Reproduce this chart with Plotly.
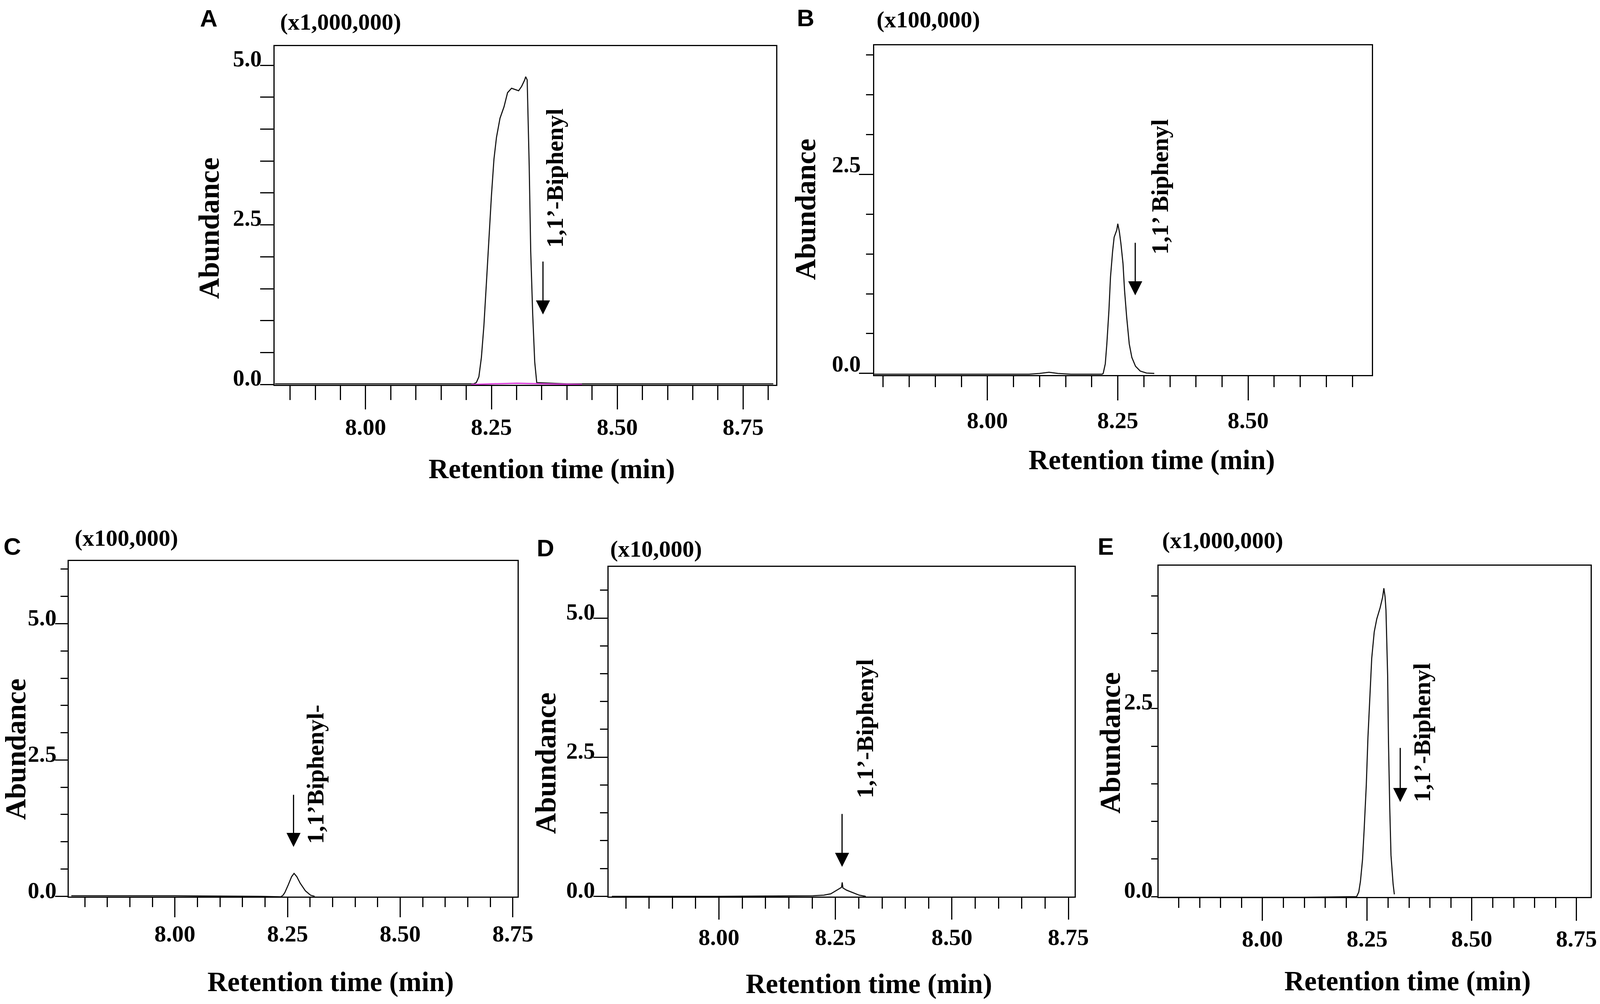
import plotly.graph_objects as go

# ---- data (retention time in min, abundance in the panel's unit) ----
# A  (x1,000,000)
rt_a = [7.82, 8.10, 8.215, 8.220, 8.225, 8.230, 8.235, 8.240, 8.245, 8.250, 8.255, 8.260,
        8.267, 8.275, 8.282, 8.290, 8.297, 8.304, 8.310, 8.316, 8.318, 8.321, 8.325, 8.328,
        8.332, 8.336, 8.340, 8.40, 8.81]
abund_a = [0.01, 0.01, 0.01, 0.03, 0.12, 0.42, 0.92, 1.59, 2.26, 2.96, 3.53, 3.87,
           4.17, 4.35, 4.57, 4.64, 4.62, 4.60, 4.67, 4.77, 4.82, 4.77, 3.43, 2.09,
           1.09, 0.35, 0.03, 0.01, 0.01]
rt_a_ion = [8.21, 8.25, 8.30, 8.35, 8.43]
abund_a_ion = [0.0, 0.01, 0.02, 0.01, 0.0]

# B  (x100,000)
rt_b = [7.78, 8.08, 8.10, 8.118, 8.135, 8.16, 8.22, 8.222, 8.226, 8.229, 8.233, 8.236,
        8.240, 8.243, 8.248, 8.250, 8.253, 8.256, 8.260, 8.263, 8.267, 8.272, 8.277,
        8.284, 8.293, 8.305, 8.32]
abund_b = [-0.01, -0.01, 0.0, 0.015, 0.0, -0.01, -0.01, 0.0, 0.12, 0.37, 0.79, 1.21,
           1.53, 1.71, 1.80, 1.88, 1.78, 1.63, 1.38, 1.04, 0.71, 0.37, 0.20,
           0.09, 0.03, 0.005, 0.0]

# C  (x100,000)
rt_c = [7.77, 8.00, 8.19, 8.235, 8.240, 8.244, 8.2515, 8.259, 8.2644, 8.2705, 8.278,
        8.2895, 8.301, 8.31]
abund_c = [0.01, 0.01, 0.0, -0.01, 0.02, 0.07, 0.21, 0.36, 0.42, 0.36, 0.24,
           0.10, 0.02, 0.0]

# D  (x10,000)
rt_d = [7.77, 8.00, 8.202, 8.225, 8.240, 8.2515, 8.259, 8.263, 8.2645, 8.266, 8.274,
        8.286, 8.301, 8.315]
abund_d = [0.0, 0.0, 0.01, 0.02, 0.045, 0.10, 0.14, 0.16, 0.25, 0.15, 0.11,
           0.07, 0.02, 0.0]

# E  (x1,000,000)
rt_e = [7.755, 8.10, 8.225, 8.230, 8.234, 8.239, 8.243, 8.248, 8.252, 8.257, 8.261,
        8.267, 8.273, 8.281, 8.287, 8.290, 8.293, 8.295, 8.299, 8.301, 8.304, 8.307,
        8.312, 8.315]
abund_e = [-0.01, -0.01, 0.0, 0.06, 0.20, 0.49, 0.90, 1.48, 2.12, 2.73, 3.17,
           3.52, 3.69, 3.84, 3.98, 4.10, 3.98, 3.81, 2.94, 2.06, 1.19, 0.55,
           0.17, 0.03]

letters = ["A", "B", "C", "D", "E"]
scales = ["(x1,000,000)", "(x100,000)", "(x100,000)", "(x10,000)", "(x1,000,000)"]
labels = ["1,1’-Biphenyl", "1,1’ Biphenyl", "1,1’Biphenyl-", "1,1’-Biphenyl", "1,1’-Biphenyl"]
series = [(rt_a, abund_a), (rt_b, abund_b), (rt_c, abund_c), (rt_d, abund_d), (rt_e, abund_e)]

# ---- layout (pixel positions measured on the 4317 x 2570 reference) ----
W, H = 4317, 2570
SERIF = "Liberation Serif"
SANS = "Liberation Sans"

def fx(px):
    return px / W

def fy(py):
    return 1 - py / H

# box (left, top, right, bottom), x range, y range
boxes = [(740.6, 118, 2094.7, 985), (2359, 116, 3701, 960), (185, 1436, 1396, 2295),
         (1642, 1451, 2899, 2295), (3126, 1448, 4292, 2296)]
xranges = [(7.819, 8.816), (7.783, 8.737), (7.764, 8.760), (7.763, 8.763), (7.752, 8.784)]
yranges = [(-0.005, 5.30), (-0.02, 4.12), (-0.005, 6.15), (-0.005, 5.92), (-0.005, 4.40)]
# tick lengths (major, minor) and label offsets per panel
xtick_len = [(60, 36), (62, 28), (50, 24), (56, 28), (58, 25)]
xlabel_standoff = [-7, -1, -10, -7, -6]
ytick_len = [(34, 34), (36, 18), (32, 18), (36, 19), (16, 16)]
ylabel_shift = [-18, -26, -16, -17, -18]
# text anchors: letter, scale, y title, x title, compound label, arrow (x, top, tip)
letter_pos = [(537, 46), (2148, 45), (7, 1399), (1446, 1403), (2959, 1399)]
scale_pos = [(754, 56), (2363, 50), (199, 1377), (1644, 1405), (3133, 1383)]
ytitle_pos = [(564, 584), (2173, 536), (42, 1918), (1472, 1954), (2995, 1902)]
xtitle_pos = [(1489, 1200), (3108, 1178), (892, 2513), (2344, 2518), (3798, 2511)]
label_pos = [(1497, 456), (3129, 478), (851, 1982), (2333, 1865), (3836, 1875)]
arrow_pos = [(1465, 668, 805), (3063, 620, 756), (792, 2033, 2168), (2272, 2082, 2219),
             (3778, 1913, 2053)]

fig = go.Figure()
annotations = []
axes = {}

for i in range(5):
    n = "" if i == 0 else str(i + 1)
    rt, ab = series[i]
    fig.add_trace(go.Scatter(x=rt, y=ab, mode="lines", xaxis="x" + n, yaxis="y" + n,
                             line=dict(color="#111111", width=2.8), showlegend=False))
    if i == 0:
        fig.add_trace(go.Scatter(x=rt_a_ion, y=abund_a_ion, mode="lines", xaxis="x", yaxis="y",
                                 line=dict(color="#d93fd9", width=3.5), showlegend=False))

    l, t, r, b = boxes[i]
    axes["xaxis" + n] = dict(
        domain=[fx(l), fx(r)], range=list(xranges[i]), anchor="y" + n,
        showline=True, mirror=True, linecolor="black", linewidth=3,
        showgrid=False, zeroline=False,
        ticks="outside", ticklen=xtick_len[i][0], tickwidth=3, tickcolor="black",
        tickmode="linear", tick0=8.0, dtick=0.25, tickformat=".2f",
        tickfont=dict(family=SERIF, size=60, color="black", weight="bold"),
        ticklabelstandoff=xlabel_standoff[i],
        minor=dict(ticks="outside", ticklen=xtick_len[i][1], tickwidth=3, tickcolor="black",
                   tick0=8.0, dtick=0.05, showgrid=False),
    )
    axes["yaxis" + n] = dict(
        domain=[fy(b), fy(t)], range=list(yranges[i]), anchor="x" + n,
        showline=True, mirror=True, linecolor="black", linewidth=3,
        showgrid=False, zeroline=False,
        ticks="outside", ticklen=ytick_len[i][0], tickwidth=3, tickcolor="black",
        tickmode="linear", tick0=0, dtick=2.5, tickformat=".1f",
        tickfont=dict(family=SERIF, size=59, color="black", weight="bold"),
        ticklabelstandoff=-16, ticklabelshift=ylabel_shift[i],
        minor=dict(ticks="outside", ticklen=ytick_len[i][1], tickwidth=3, tickcolor="black",
                   tick0=0, dtick=0.5, showgrid=False),
    )

    annotations.append(dict(text=letters[i], x=fx(letter_pos[i][0]), y=fy(letter_pos[i][1]),
                            xref="paper", yref="paper", xanchor="left", yanchor="middle",
                            showarrow=False,
                            font=dict(family=SANS, size=62, color="black", weight="bold")))
    annotations.append(dict(text=scales[i], x=fx(scale_pos[i][0]), y=fy(scale_pos[i][1]),
                            xref="paper", yref="paper", xanchor="left", yanchor="middle",
                            showarrow=False,
                            font=dict(family=SERIF, size=60, color="black", weight="bold")))
    annotations.append(dict(text="Abundance", x=fx(ytitle_pos[i][0]), y=fy(ytitle_pos[i][1]),
                            xref="paper", yref="paper", xanchor="center", yanchor="middle",
                            textangle=-90, showarrow=False,
                            font=dict(family=SERIF, size=74, color="black", weight="bold")))
    annotations.append(dict(text="Retention time (min)", x=fx(xtitle_pos[i][0]),
                            y=fy(xtitle_pos[i][1]), xref="paper", yref="paper",
                            xanchor="center", yanchor="middle", showarrow=False,
                            font=dict(family=SERIF, size=71, color="black", weight="bold")))
    annotations.append(dict(text=labels[i], x=fx(label_pos[i][0]), y=fy(label_pos[i][1]),
                            xref="paper", yref="paper", xanchor="center", yanchor="middle",
                            textangle=-90, showarrow=False,
                            font=dict(family=SERIF, size=62, color="black", weight="bold")))
    ax_px, top_px, tip_px = arrow_pos[i]
    annotations.append(dict(text="", x=fx(ax_px), y=fy(tip_px), xref="paper", yref="paper",
                            showarrow=True, arrowhead=2, arrowsize=2.4, arrowwidth=3,
                            arrowcolor="black", ax=0, ay=top_px - tip_px))

fig.update_layout(
    width=W, height=H, template="none",
    paper_bgcolor="white", plot_bgcolor="white",
    margin=dict(l=0, r=0, t=0, b=0),
    showlegend=False,
    annotations=annotations,
    **axes,
)

# the browser viewport can be narrower than the window, so fit the figure to it
post = """
document.documentElement.style.margin = '0';
document.body.style.margin = '0';
document.body.style.overflow = 'hidden';
var gd = document.getElementById('{plot_id}');
Plotly.relayout(gd, {width: window.innerWidth, height: window.innerHeight});
"""
fig.write_html("out.html", post_script=post, config={"displayModeBar": False})
